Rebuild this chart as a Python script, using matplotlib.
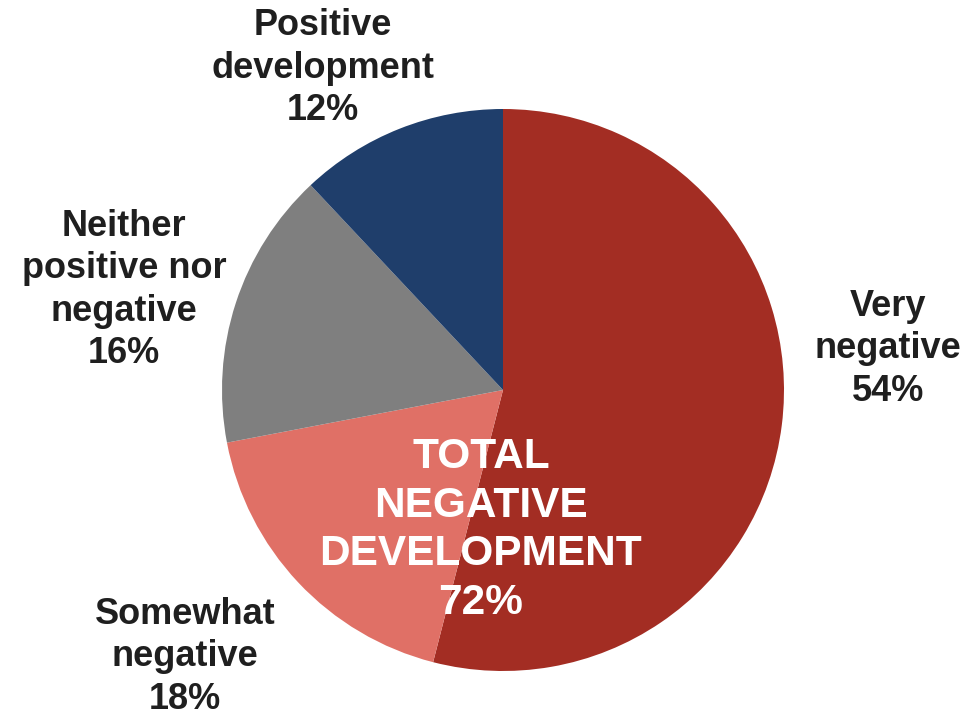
import matplotlib.pyplot as plt

# slice order follows the chart, clockwise from 12 o'clock
categories = ["Very\nnegative", "Somewhat\nnegative", "Neither\npositive nor\nnegative", "Positive\ndevelopment"]
values = [54, 18, 16, 12]
colors = ["#A32D23", "#E07066", "#7F7F7F", "#1F3E6B"]

# label centres in pixels (x, y from top)
label_pos = [(888, 349), (185, 657), (124, 290), (323, 68)]

W, H = 967, 718
plt.rcParams['font.family'] = ['Liberation Sans', 'DejaVu Sans']

fig = plt.figure(figsize=(W / 100, H / 100), dpi=100)
r = 281
cx, cy = 503, 390
ax = fig.add_axes([(cx - r) / W, (H - cy - r) / H, 2 * r / W, 2 * r / H])
ax.pie(values, colors=colors, startangle=90, counterclock=False, radius=1,
       wedgeprops={'linewidth': 0})
ax.set_xlim(-1, 1)
ax.set_ylim(-1, 1)
ax.set_aspect('equal')
ax.axis('off')

for name, val, (px, py) in zip(categories, values, label_pos):
    fig.text(px / W, 1 - py / H, f"{name}\n{val}%", ha='center', va='center',
             fontsize=26, fontweight='bold', color='#1F1F1F', linespacing=1.26)

total_neg = sum(v for n, v in zip(categories, values) if "negative" in n and "Neither" not in n)
fig.text(481 / W, 1 - 530 / H, f"TOTAL\nNEGATIVE\nDEVELOPMENT\n{total_neg}%", ha='center', va='center',
         fontsize=30.5, fontweight='bold', color='white', linespacing=1.28)

fig.savefig("out.png", dpi=100)
